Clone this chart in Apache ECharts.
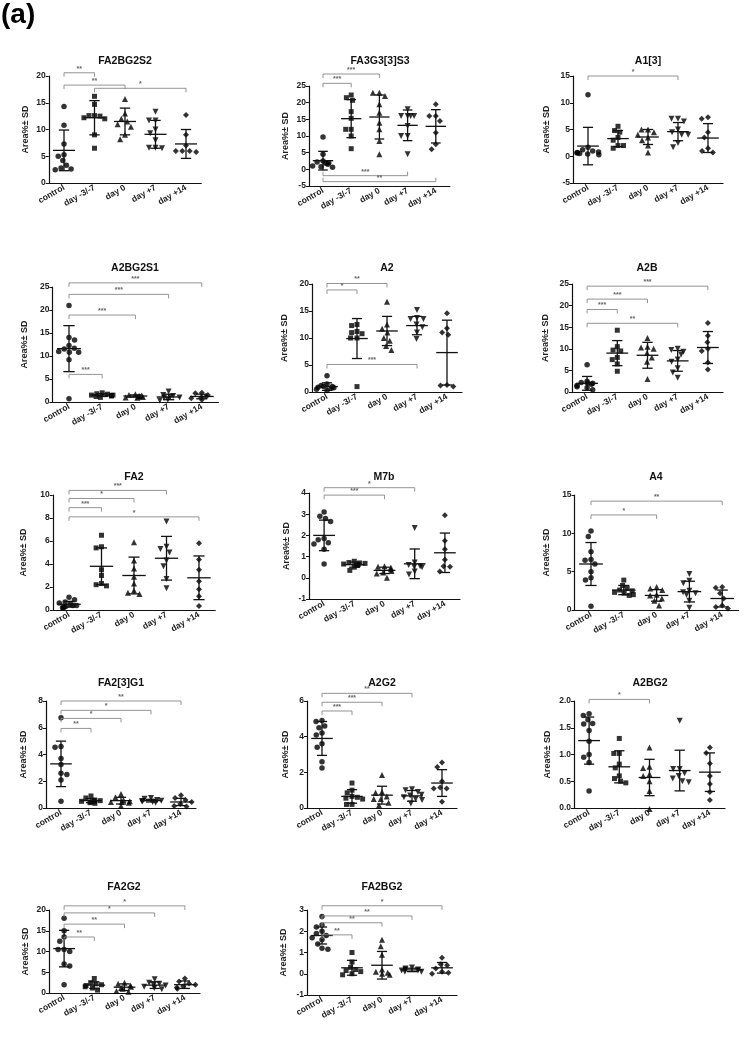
<!DOCTYPE html>
<html><head><meta charset="utf-8">
<script src="https://cdn.jsdelivr.net/npm/echarts@6/dist/echarts.min.js"></script>
<style>html,body{margin:0;padding:0;background:#fff}#c{width:749px;height:1045px}</style>
</head><body><div id="c"></div>
<script>
const categories = ['control', 'day -3/-7', 'day 0', 'day +7', 'day +14'];
const yName = 'Area%\u00b1 SD';

// ---- panel data: five groups each, mean, SD, significance brackets [from, to, y, label, dir]
const FA2BG2S2 = [[14.3,10.8,7.3,5.3,5.0,4.2,3.3,2.8,2.6,2.5],[16.2,14.7,12.6,12.6,12.5,12.2,12.0,9.0,6.5],[15.7,13.0,12.0,11.5,11.0,10.5,9.0,8.2],[13.3,11.7,11.7,10.0,9.3,8.0,6.6,6.6,6.5],[12.7,9.0,7.0,6.0,6.0,6.0,5.8]];
const FA2BG2S2_mean = [6.1,12.2,11.5,9.1,7.3];
const FA2BG2S2_sd = [3.8,3.2,2.5,2.6,2.7];
const FA2BG2S2_sig = [[0,1,20.6,'**'],[0,2,18.3,'**'],[1,4,17.7,'*']];

const FA3G3S3 = [[9.7,4.5,2.5,2.2,2.0,1.8,1.5,1.0,0.8,0.6],[22.3,21.5,20.7,17.3,15.3,12.0,12.0,10.0,6.2],[23.0,23.0,22.0,19.5,17.0,14.0,12.0,8.5,4.5],[18.0,16.0,16.0,16.0,16.0,13.0,10.0,10.0,4.5],[19.5,16.0,16.0,14.5,11.0,7.5,6.0]];
const FA3G3S3_mean = [2.6,15.2,15.7,13.2,12.9];
const FA3G3S3_sd = [2.8,5.7,6.6,4.6,5.0];
const FA3G3S3_sig = [[0,1,25.8,'***'],[0,2,28.6,'***'],[0,3,-1.9,'***',-1],[0,4,-3.7,'**',-1]];

const A13 = [[11.5,1.7,1.2,1.0,0.8,0.7,0.6,0.5,0.4,0.3],[5.6,4.8,4.5,3.5,3.0,2.0,2.0,1.5],[5.0,5.0,4.5,4.0,3.5,3.0,2.0,0.7],[7.0,7.0,6.5,5.0,4.5,4.0,4.0,2.5,1.7],[7.3,7.0,4.5,3.5,1.5,1.0,0.7]];
const A13_mean = [1.9,3.3,3.6,4.6,3.4];
const A13_sd = [3.5,1.5,1.4,1.7,2.7];
const A13_sig = [[0,3,15.0,'*']];

const A2BG2S1 = [[21.0,14.0,13.5,12.3,11.7,11.5,11.0,10.8,10.8,9.2,0.7],[2.0,1.8,1.7,1.5,1.5,1.4,1.3,1.2,1.0],[1.7,1.5,1.4,1.3,1.2,1.1,1.0,0.9],[2.3,1.5,1.3,1.1,1.0,0.9,0.5,0.3],[2.0,1.9,1.5,1.2,1.0,0.8,0.5]];
const A2BG2S1_mean = [11.6,1.5,1.3,1.1,1.2];
const A2BG2S1_sd = [5.0,0.3,0.25,0.6,0.5];
const A2BG2S1_sig = [[0,4,25.9,'***'],[0,3,23.4,'***'],[0,2,18.9,'***'],[0,1,6.0,'***']];

const A2 = [[3.0,1.5,1.2,1.0,1.0,0.9,0.8,0.7,0.5,0.3],[12.5,12.3,11.2,11.0,10.8,10.0,10.0,1.0],[16.7,12.5,11.7,11.0,10.0,9.5,8.5,7.8],[15.2,13.7,13.5,13.5,12.5,12.0,11.0,9.8],[14.6,11.8,11.0,10.6,1.3,1.2,1.0]];
const A2_mean = [1.0,9.9,11.3,12.3,7.3];
const A2_sd = [0.7,3.7,2.7,1.7,6.0];
const A2_sig = [[0,2,20.1,'**'],[0,1,18.9,'*'],[0,3,5.1,'***']];

const A2B = [[6.3,2.5,2.2,2.0,2.0,1.8,1.5,1.2,1.0,0.5],[14.3,10.5,9.7,9.5,8.0,7.5,6.5,4.8],[12.5,10.5,10.3,10.0,9.0,8.0,7.0,3.0],[10.0,9.7,9.3,8.7,7.5,7.0,5.5,4.5,3.3],[16.0,13.0,11.5,10.0,9.5,6.8,5.2]];
const A2B_mean = [2.0,9.0,8.5,7.2,10.3];
const A2B_sd = [1.6,2.9,3.0,2.4,3.7];
const A2B_sig = [[0,4,24.5,'***'],[0,2,21.5,'***'],[0,1,19.1,'***'],[0,3,15.9,'**']];

const FA2 = [[1.1,0.9,0.7,0.6,0.5,0.4,0.4,0.3,0.3,0.2,0.2],[6.5,5.5,5.4,3.5,3.0,2.3,2.2,2.1],[5.9,4.3,3.6,2.9,2.3,1.7,1.5,1.4],[7.7,5.5,5.3,5.0,4.3,3.8,2.7,1.9],[5.8,4.4,3.5,2.5,1.8,1.2,0.35]];
const FA2_mean = [0.5,3.8,3.0,4.5,2.8];
const FA2_sd = [0.25,1.6,1.6,1.9,1.9];
const FA2_sig = [[0,3,10.4,'***'],[0,2,9.7,'*'],[0,1,8.9,'***'],[0,4,8.1,'*']];

const M7b = [[3.1,2.9,2.8,2.65,1.85,1.8,1.65,1.6,1.35,0.65],[0.78,0.72,0.7,0.68,0.65,0.62,0.58,0.5,0.35],[0.55,0.52,0.48,0.4,0.32,0.25,0.2,0.0],[2.35,0.72,0.6,0.55,0.52,0.5,0.3,0.15],[2.95,1.75,1.35,0.85,0.55,0.52,0.3]];
const M7b_mean = [2.0,0.62,0.35,0.66,1.18];
const M7b_sd = [0.72,0.12,0.15,0.7,0.93];
const M7b_sig = [[0,3,4.25,'*'],[0,2,3.9,'***']];

const A4 = [[10.3,9.6,7.6,6.6,6.5,6.0,5.0,4.2,3.9,0.5],[3.9,3.2,2.8,2.6,2.5,2.3,2.2,2.0,1.9],[3.0,2.8,2.6,2.0,1.9,1.5,1.2,0.6],[4.7,3.8,3.5,2.5,2.3,2.2,2.0,1.2,0.3],[3.0,2.9,2.2,1.5,0.6,0.4,0.2]];
const A4_mean = [6.0,2.6,1.9,2.4,1.5];
const A4_sd = [2.8,0.6,0.75,1.35,1.1];
const A4_sig = [[0,4,14.2,'**'],[0,2,12.4,'*']];

const FA23G1 = [[6.75,4.6,4.55,3.7,3.25,2.6,2.5,2.1,0.5],[0.9,0.75,0.6,0.55,0.5,0.5,0.45,0.4,0.35],[1.05,0.8,0.6,0.5,0.45,0.45,0.4,0.15],[0.75,0.7,0.6,0.55,0.5,0.5,0.45,0.4],[0.95,0.75,0.6,0.45,0.3,0.15,0.12]];
const FA23G1_mean = [3.3,0.55,0.55,0.55,0.45];
const FA23G1_sd = [1.7,0.15,0.25,0.1,0.27];
const FA23G1_sig = [[0,4,8.0,'**'],[0,3,7.3,'*'],[0,2,6.7,'*'],[0,1,5.95,'**']];

const A2G2 = [[4.9,4.85,4.6,4.5,4.2,4.1,3.6,3.4,2.6,2.25],[1.4,1.0,0.85,0.65,0.6,0.55,0.5,0.2,0.2],[1.85,0.9,0.85,0.65,0.5,0.5,0.3,0.15],[1.05,1.0,0.9,0.75,0.7,0.6,0.5,0.45,0.25],[2.55,2.3,1.5,1.15,1.1,1.1,0.35]];
const A2G2_mean = [3.9,0.65,0.72,0.68,1.4];
const A2G2_sd = [0.95,0.38,0.5,0.3,0.75];
const A2G2_sig = [[0,3,6.43,'**'],[0,2,5.93,'***'],[0,1,5.44,'***']];

const A2BG2 = [[1.76,1.73,1.65,1.58,1.57,1.45,1.25,1.0,0.95,0.85,0.32],[1.3,1.02,1.02,0.82,0.75,0.6,0.55,0.5,0.47],[1.13,0.77,0.75,0.63,0.6,0.5,0.32,-0.02],[1.63,0.73,0.73,0.65,0.6,0.55,0.5,0.48],[1.13,1.03,0.83,0.6,0.45,0.3,0.15]];
const A2BG2_mean = [1.26,0.77,0.57,0.7,0.67];
const A2BG2_sd = [0.44,0.3,0.34,0.38,0.36];
const A2BG2_sig = [[0,2,2.03,'*']];

const FA2G2 = [[18.0,15.0,13.5,12.5,10.5,10.5,10.0,7.0,6.5,2.0],[3.5,2.5,2.2,2.0,1.8,1.5,1.2,0.7],[2.5,2.2,1.8,1.5,1.2,1.0,0.5,0.3],[3.3,2.5,2.2,2.0,1.8,1.5,1.2,0.9],[3.5,2.8,2.3,2.0,1.6,1.3,1.0]];
const FA2G2_mean = [10.7,1.9,1.4,1.9,2.0];
const FA2G2_sd = [4.4,0.8,0.8,0.8,0.9];
const FA2G2_sig = [[0,4,21.0,'*'],[0,3,19.3,'*'],[0,2,16.6,'**'],[0,1,13.5,'**']];

const FA2BG2 = [[2.7,2.3,2.2,2.0,1.9,1.8,1.7,1.6,1.4,1.2,1.15],[1.0,0.55,0.3,0.2,0.15,0.1,0.0,-0.05],[1.6,1.3,0.9,0.2,0.1,0.05,0.0,-0.05],[0.3,0.25,0.2,0.2,0.15,0.15,0.1,0.1],[0.75,0.45,0.4,0.25,0.1,0.05,0.0]];
const FA2BG2_mean = [1.8,0.28,0.4,0.18,0.28];
const FA2BG2_sd = [0.4,0.35,0.65,0.08,0.25];
const FA2BG2_sig = [[0,4,3.2,'*'],[0,3,2.72,'**'],[0,2,2.4,'**'],[0,1,1.83,'**']];

// axis ranges [min, max, interval]
const yRanges = [[0,20,5],[-5,25,5],[-5,15,5],[0,25,5],[0,20,5],[0,25,5],[0,10,2],[-1,4,1],[0,15,5],[0,8,2],[0,6,2],[0,2,0.5],[0,20,5],[-1,3,1]];
const titles = ['FA2BG2S2','FA3G3[3]S3','A1[3]','A2BG2S1','A2','A2B','FA2','M7b','A4','FA2[3]G1','A2G2','A2BG2','FA2G2','FA2BG2'];

const panelData = [
  [FA2BG2S2, FA2BG2S2_mean, FA2BG2S2_sd, FA2BG2S2_sig],
  [FA3G3S3, FA3G3S3_mean, FA3G3S3_sd, FA3G3S3_sig],
  [A13, A13_mean, A13_sd, A13_sig],
  [A2BG2S1, A2BG2S1_mean, A2BG2S1_sd, A2BG2S1_sig],
  [A2, A2_mean, A2_sd, A2_sig],
  [A2B, A2B_mean, A2B_sd, A2B_sig],
  [FA2, FA2_mean, FA2_sd, FA2_sig],
  [M7b, M7b_mean, M7b_sd, M7b_sig],
  [A4, A4_mean, A4_sd, A4_sig],
  [FA23G1, FA23G1_mean, FA23G1_sd, FA23G1_sig],
  [A2G2, A2G2_mean, A2G2_sd, A2G2_sig],
  [A2BG2, A2BG2_mean, A2BG2_sd, A2BG2_sig],
  [FA2G2, FA2G2_mean, FA2G2_sd, FA2G2_sig],
  [FA2BG2, FA2BG2_mean, FA2BG2_sd, FA2BG2_sig]
];

// ---- layout (pixels): grid left, top, width, height, title x, title y, name gap
const layout = [
  [48.75,76,152.5,107,125,61,19],
  [308.9,86,141,100,380,61,19],
  [573,76,150,107,648,61,22],
  [52.4,287,166,115,135,268,23],
  [312,284,150,108,387,268,23],
  [572,284,151,108,647,268,22],
  [52.75,495,162.5,115,134,477,25],
  [309,493,151,106,384,477,18],
  [574.6,495,164,115,656,477,24],
  [46,701,150,107,121,683,18],
  [307,701,150,107,382,683,17],
  [574,701,151,107,650,683,22],
  [49,910,151,83,124,887,19],
  [307,910,150,85,382,887,19]
];

const FONT = '"Liberation Sans", Arial, sans-serif';
const symbols = ['circle','rect','triangle','triangle','diamond'];
const symRot = [0,0,0,180,0];
const symSize = [5.5,5,6,6,6];

const grids = [], xAxes = [], yAxes = [], series = [], graphics = [];
graphics.push({type:'text', x:1, y:1, style:{text:'(a)', font:'bold 28px ' + FONT, fill:'#000', textAlign:'left', textVerticalAlign:'top'}});

panelData.forEach((pd, k) => {
  const [vals, means, sds, sig] = pd;
  const L = layout[k];
  const R = yRanges[k];
  grids.push({left:L[0], top:L[1], width:L[2], height:L[3]});
  graphics.push({type:'text', x:L[4], y:L[5], style:{text:titles[k], font:'bold 10.5px ' + FONT, fill:'#111', textAlign:'center', textVerticalAlign:'middle'}});
  xAxes.push({
    type:'category', gridIndex:k, data:categories, boundaryGap:true,
    jitter:22, jitterOverlap:false, jitterMargin:0.5,
    axisLine:{onZero:false, lineStyle:{color:'#111', width:1.2}},
    axisTick:{alignWithLabel:true, length:3, lineStyle:{color:'#111'}},
    axisLabel:{interval:0, rotate:30, fontSize:8.5, fontWeight:'bold', fontFamily:FONT, color:'#222', margin:4},
    splitLine:{show:false}
  });
  yAxes.push({
    type:'value', gridIndex:k, min:R[0], max:R[1], interval:R[2],
    name:yName, nameLocation:'middle', nameRotate:90, nameGap:L[6],
    nameTextStyle:{fontSize:9, fontWeight:'bold', fontFamily:FONT, color:'#222'},
    axisLine:{show:true, onZero:false, lineStyle:{color:'#111', width:1.2}},
    axisTick:{show:true, length:3, lineStyle:{color:'#111'}},
    axisLabel:{fontSize:8.5, fontWeight:'bold', fontFamily:FONT, color:'#222', margin:3,
      formatter: v => R[2] < 1 ? v.toFixed(1) : String(v)},
    splitLine:{show:false}
  });
  vals.forEach((g, gi) => {
    series.push({
      type:'scatter', xAxisIndex:k, yAxisIndex:k, silent:true, clip:false,
      symbol:symbols[gi], symbolRotate:symRot[gi], symbolSize:symSize[gi],
      itemStyle:{color:'#000'}, z:3,
      data:g.map(v => [gi, v])
    });
  });
  series.push({
    type:'custom', xAxisIndex:k, yAxisIndex:k, silent:true, z:4,
    data:means.map((m, i) => [i, m, sds[i]]),
    encode:{x:0, y:1},
    renderItem:(params, api) => {
      const i = api.value(0), m = api.value(1), s = api.value(2);
      const c = api.coord([i, m]), t = api.coord([i, m + s]), b = api.coord([i, m - s]);
      const bw = api.size([1, 0])[0];
      const hw = bw * 0.36, cw = bw * 0.17;
      const st = {stroke:'#111', lineWidth:1.3};
      return {type:'group', children:[
        {type:'line', shape:{x1:c[0]-hw, y1:c[1], x2:c[0]+hw, y2:c[1]}, style:st},
        {type:'line', shape:{x1:c[0], y1:t[1], x2:c[0], y2:b[1]}, style:st},
        {type:'line', shape:{x1:c[0]-cw, y1:t[1], x2:c[0]+cw, y2:t[1]}, style:st},
        {type:'line', shape:{x1:c[0]-cw, y1:b[1], x2:c[0]+cw, y2:b[1]}, style:st}
      ]};
    }
  });
  series.push({
    type:'custom', xAxisIndex:k, yAxisIndex:k, silent:true, z:5, clip:false,
    data:sig.map(s => [s[0], s[1], s[2], s[4] || 1]),
    encode:{x:[0,1], y:2},
    renderItem:(params, api) => {
      const a = api.coord([api.value(0), api.value(2)]);
      const b = api.coord([api.value(1), api.value(2)]);
      const d = api.value(3) * 4;
      return {type:'group', children:[
        {type:'polyline', shape:{points:[[a[0], a[1]+d],[a[0], a[1]],[b[0], b[1]],[b[0], b[1]+d]]}, style:{stroke:'#888', lineWidth:0.9, fill:null}},
        {type:'text', x:(a[0]+b[0])/2, y:a[1]-0.5, style:{text:sig[params.dataIndex][3], font:'bold 7px ' + FONT, fill:'#666', textAlign:'center', textVerticalAlign:'bottom'}}
      ]};
    }
  });
});

const chart = echarts.init(document.getElementById('c'), null, {renderer:'canvas'});
chart.setOption({
  animation:false,
  backgroundColor:'#fff',
  grid:grids, xAxis:xAxes, yAxis:yAxes, series:series,
  graphic:graphics
});
</script>
</body></html>
